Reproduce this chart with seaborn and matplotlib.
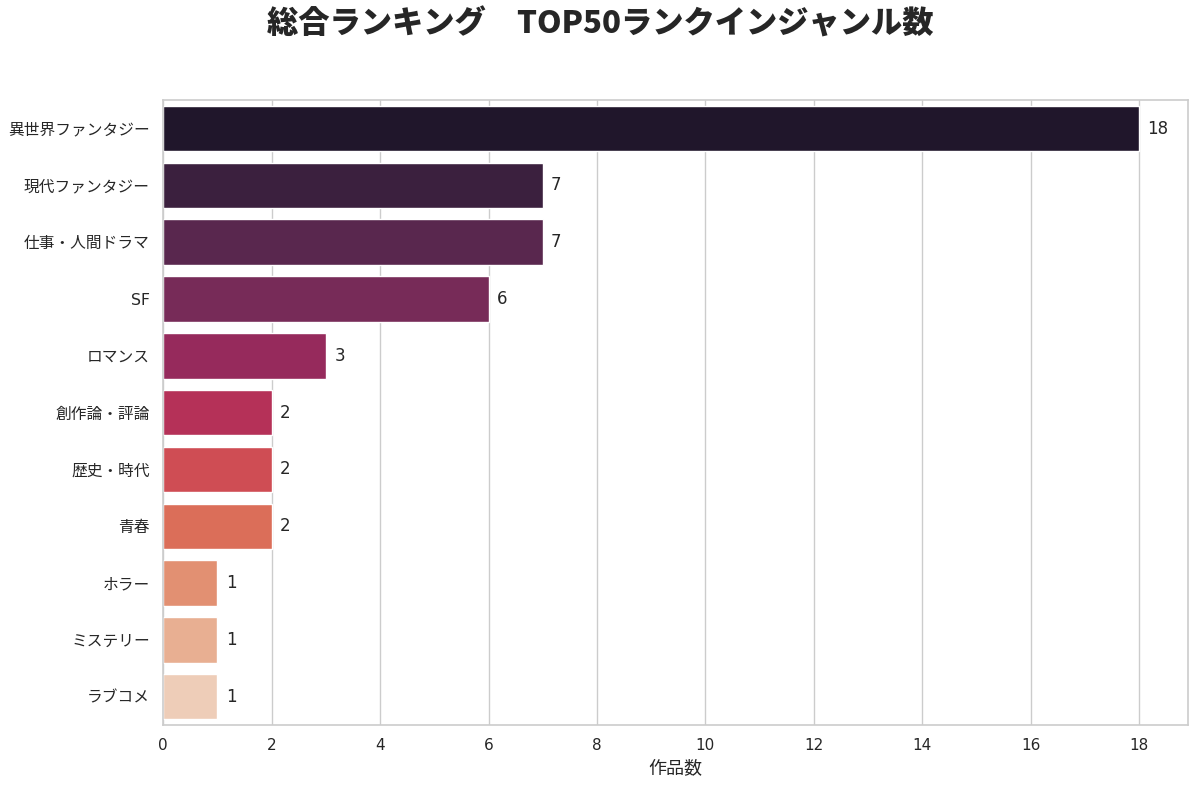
import matplotlib
matplotlib.use("Agg")
from matplotlib import pyplot as plt
import pandas as pd
import seaborn as sns

genres = ["異世界ファンタジー", "現代ファンタジー", "仕事・人間ドラマ", "SF", "ロマンス",
          "創作論・評論", "歴史・時代", "青春", "ホラー", "ミステリー", "ラブコメ"]
counts = [18, 7, 7, 6, 3, 2, 2, 2, 1, 1, 1]

df = pd.DataFrame({"genre": genres, "count": counts})

sns.set_theme(style="whitegrid")
plt.rcParams['font.family'] = ['DejaVu Sans', 'Noto Sans CJK JP']

fig, ax = plt.subplots(figsize=(12, 7.89), dpi=100)
fig.subplots_adjust(left=0.136, right=0.99, top=0.873, bottom=0.081)

sns.barplot(df, x="count", y="genre", hue="genre", palette="rocket",
            legend=False, ax=ax)
for c in ax.containers:
    ax.bar_label(c, padding=6, fontsize=12)

ax.set_xlabel("作品数", fontsize=13)
ax.set_ylabel("")
ax.tick_params(axis="y", labelsize=11.3)
ax.tick_params(axis="x", labelsize=11)
ax.set_xticks(range(0, 19, 2))
for s in ax.spines.values():
    s.set_color("#cccccc")
    s.set_linewidth(1.2)

fig.suptitle("総合ランキング　TOP50ランクインジャンル数", fontsize=22.5,
             fontweight="heavy", y=0.99,
             family=['Noto Sans CJK JP', 'DejaVu Sans'])

plt.savefig("out.png", dpi=100)
